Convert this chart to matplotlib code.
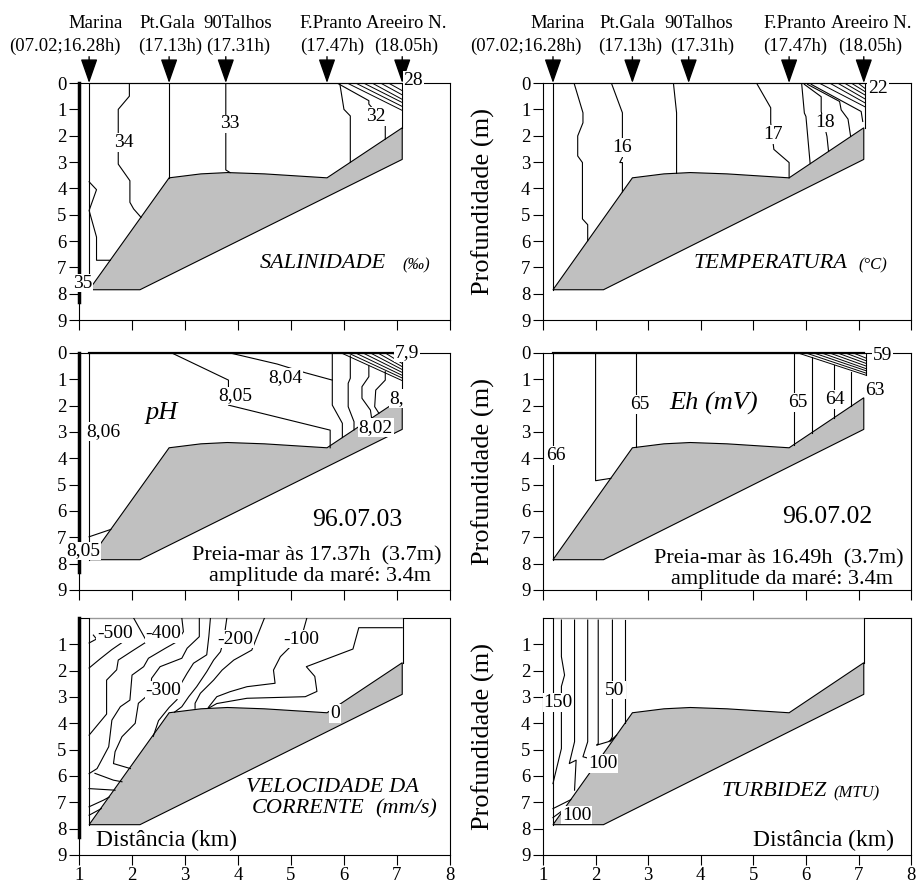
import matplotlib
matplotlib.use('Agg')
import matplotlib.pyplot as plt

plt.rcParams['font.family'] = ['Liberation Serif', 'DejaVu Serif']

# stations along the section
station_names = ['Marina', 'Pt.Gala', '90Talhos', 'F.Pranto', 'Areeiro N.']
station_times = ['(07.02;16.28h)', '(17.13h)', '(17.31h)', '(17.47h)', '(18.05h)']
station_km = [1.19, 2.7, 3.77, 5.68, 7.1]

# bottom profile (km, m)
bottom_km = [1.19, 2.15, 7.1, 7.1, 5.68, 4.5, 3.8, 3.3, 2.7]
bottom_depth = [7.85, 7.85, 2.9, 1.7, 3.6, 3.45, 3.4, 3.45, 3.6]

# --- salinity isolines (km, depth)
sal_lines = [
    [(1.19, 3.75), (1.33, 4.05), (1.19, 4.84), (1.33, 5.85), (1.33, 6.73), (1.59, 6.73)],
    [(1.95, 0), (1.95, 0.5), (1.74, 1.0), (1.74, 3.08), (1.96, 3.71), (1.96, 4.53), (2.03, 4.78), (2.17, 5.1)],
    [(2.7, 0), (2.7, 3.6)],
    [(3.77, 0), (3.77, 3.3), (3.85, 3.4)],
    [(5.92, 0), (6.0, 1.0), (6.12, 1.25), (6.12, 3.01)],
    [(5.87, 0), (6.47, 0.67), (6.47, 0.8), (6.78, 1.5), (6.78, 2.13)],
]
sal_hatch_x0 = [6.06, 6.22, 6.37, 6.53, 6.69, 6.84]
sal_hatch_y1 = [1.04, 0.89, 0.74, 0.62, 0.45, 0.29]
sal_labels = [('35', 1.07, 7.6), ('34', 1.84, 2.26), ('33', 3.84, 1.55), ('32', 6.61, 1.27), ('28', 7.31, -0.1)]

# --- temperature isolines
tem_lines = [
    [(1.59, 0), (1.76, 1.13), (1.76, 1.51), (1.66, 2.01), (1.66, 2.77), (1.75, 3.02), (1.75, 5.16), (1.85, 5.38), (1.85, 5.99)],
    [(2.30, 0), (2.51, 1.13), (2.51, 2.83), (2.46, 3.02), (2.51, 3.02), (2.51, 4.13)],
    [(3.48, 0), (3.54, 1.13), (3.54, 3.43)],
    [(5.06, 0), (5.33, 0.94), (5.33, 1.51), (5.39, 2.52), (5.68, 3.02), (5.68, 3.6)],
    [(5.92, 0.05), (5.97, 1.14), (6.0, 1.27), (6.08, 3.06)],
    [(5.97, 0.05), (6.29, 0.52), (6.29, 1.08), (6.40, 2.03), (6.43, 2.6)],
    [(6.03, 0.05), (6.64, 0.7), (6.67, 1.02), (6.8, 1.37), (6.85, 2.03)],
    [(6.10, 0.05), (7.05, 1.08), (7.08, 1.46)],
]
tem_hatch_x0 = [6.25, 6.45, 6.6, 6.73, 6.86, 6.99]
tem_hatch_y1 = [0.9, 0.75, 0.6, 0.45, 0.32, 0.2]
tem_labels = [('16', 2.5, 2.45), ('17', 5.37, 1.95), ('18', 6.36, 1.51), ('22', 7.37, 0.2)]

# --- pH isolines
ph_lines = [
    [(1.19, 6.98), (1.6, 6.7)],
    [(2.75, 0), (3.82, 1.03), (3.82, 1.98), (5.74, 2.93), (5.74, 3.6)],
    [(3.85, 0), (4.74, 0.42), (5.27, 0.75), (5.78, 1.03)],
    [(5.78, 0), (5.78, 1.98), (5.97, 2.67), (5.97, 3.21)],
    [(6.12, 0.11), (6.12, 0.96), (6.08, 1.15), (6.08, 2.04), (6.19, 2.61), (6.19, 2.92)],
    [(6.47, 0.49), (6.47, 0.9), (6.34, 1.28), (6.34, 1.72), (6.50, 2.17), (6.52, 2.45)],
    [(6.78, 0.71), (6.78, 1.03), (6.6, 1.41), (6.58, 2.04), (6.66, 2.29)],
]
ph_hatch_x0 = [5.95, 6.08, 6.22, 6.36, 6.5, 6.64, 6.78, 6.92]
ph_hatch_y1 = [1.05, 0.95, 0.85, 0.74, 0.63, 0.52, 0.4, 0.28]
ph_labels = [('8,06', 1.46, 2.99), ('8,05', 3.94, 1.63), ('8,04', 4.89, 0.93), ('8,02', 6.6, 2.84),
             ('8,', 7.0, 1.72), ('7,9', 7.19, 0.0), ('8,05', 1.08, 7.52)]

# --- Eh isolines
eh_lines = [
    [(2.0, 0), (2.0, 4.85), (2.29, 4.76)],
    [(2.77, 0), (2.77, 3.58)],
    [(5.77, 0), (5.77, 3.48)],
    [(6.11, 0.14), (6.11, 3.02)],
    [(6.53, 0.46), (6.53, 2.46)],
    [(6.85, 0.71), (6.85, 2.03)],
]
eh_hatch_x0 = [5.85, 6.0, 6.15, 6.3, 6.45, 6.6, 6.75, 6.9]
eh_hatch_y1 = [0.85, 0.77, 0.68, 0.6, 0.5, 0.4, 0.3, 0.2]
eh_labels = [('66', 1.25, 3.9), ('65', 2.84, 1.95), ('65', 5.85, 1.89), ('64', 6.55, 1.76),
             ('63', 7.32, 1.44), ('59', 7.46, 0.08)]

# --- current velocity isolines (mm/s)
vel_lines = [
    [(1.19, 1.9), (1.4, 1.55), (1.62, 1.2), (1.8, 0.95)],
    [(1.19, 0.95), (1.33, 0.8), (1.27, 0.65)],
    [(2.03, 0), (2.28, 0.9), (2.03, 1.22), (1.74, 1.6), (1.71, 1.97), (1.52, 2.36), (1.52, 3.65), (1.19, 4.45)],
    [(2.94, 0), (2.97, 0.52), (2.85, 0.9), (2.63, 1.15), (2.31, 1.53), (2.22, 1.85), (2.0, 2.17), (1.96, 3.12),
     (1.78, 3.37), (1.62, 3.88), (1.56, 4.89), (1.34, 5.72), (1.19, 5.91)],
    [(3.27, 0), (3.27, 0.71), (3.04, 1.15), (2.94, 1.53), (2.53, 1.85), (2.37, 2.29), (2.34, 2.86), (2.12, 3.24),
     (2.06, 4.0), (1.81, 4.51), (1.68, 5.08), (1.65, 5.53), (1.97, 5.72)],
    [(3.48, 0), (3.45, 0.7), (3.41, 1.4), (3.16, 1.72), (3.04, 2.1), (2.91, 2.55), (2.85, 3.1), (2.7, 3.4),
     (2.5, 3.9), (2.4, 4.5)],
    [(3.79, 0), (3.73, 0.84), (3.67, 1.28), (3.54, 1.6), (3.41, 2.04), (3.22, 2.61), (3.07, 2.99), (2.94, 3.37), (2.8, 3.58)],
    [(4.5, 0), (4.36, 0.71), (4.26, 1.22), (3.92, 1.6), (3.7, 1.98), (3.54, 2.36), (3.29, 2.86), (3.19, 3.24), (3.19, 3.43)],
    [(5.3, 0), (5.21, 0.65), (4.99, 1.09), (4.8, 1.47), (4.67, 1.98), (4.7, 2.48), (4.17, 2.61), (3.85, 2.8),
     (3.6, 2.99), (3.44, 3.4)],
    [(7.1, 0.37), (6.28, 0.37), (6.17, 1.18), (5.29, 1.85), (5.45, 2.22), (5.49, 2.79), (5.27, 2.99), (4.17, 3.05),
     (3.6, 3.25), (3.45, 3.42)],
    [(1.3, 5.9), (1.65, 6.16), (1.81, 6.22)],
    [(1.19, 6.48), (1.68, 6.54)],
    [(1.19, 7.17), (1.46, 6.92), (1.57, 6.8)],
    [(1.19, 7.49), (1.42, 7.24)],
]
vel_labels = [('-500', 1.68, 0.58), ('-400', 2.59, 0.58), ('-300', 2.59, 2.74), ('-200', 3.95, 0.8),
              ('-100', 5.2, 0.8), ('0', 5.83, 3.62)]

# --- turbidity isolines (MTU)
tur_lines = [
    [(1.35, 0.08), (1.35, 1.47), (1.41, 2.17), (1.35, 2.6), (1.35, 4.96), (1.22, 6.03), (1.19, 6.29)],
    [(1.6, 0.08), (1.6, 4.7), (1.5, 5.53), (1.63, 5.4), (1.6, 6.54)],
    [(1.85, 0.08), (1.85, 4.7), (1.76, 5.27), (1.9, 5.35), (1.98, 5.6)],
    [(2.05, 0.08), (2.05, 4.77), (2.02, 4.83), (2.24, 4.7), (2.36, 4.55)],
    [(2.32, 0.08), (2.32, 4.51), (2.27, 4.7), (2.4, 4.45)],
    [(2.56, 0.08), (2.56, 3.99)],
    [(1.19, 7.24), (1.53, 6.9)],
    [(1.19, 7.58), (1.38, 7.3)],
]
tur_labels = [('150', 1.29, 3.22), ('50', 2.37, 2.74), ('100', 2.13, 5.53), ('100', 1.64, 7.49)]


def setup_axes(ax, row, col):
    ax.set_xlim(1, 8)
    ax.set_ylim(9, 0)
    ax.set_xticks(range(1, 9))
    if row < 2:
        ax.set_xticklabels([])
        ax.set_yticks(range(0, 10))
    else:
        ax.set_yticks(range(1, 10))
    ax.tick_params(direction='out', length=7, width=0.8, labelsize=13.5, pad=2)
    for sp in ax.spines.values():
        sp.set_linewidth(0.8)
    if col == 1:
        ax.set_ylabel('Profundidade (m)', fontsize=19)
        ax.yaxis.set_label_coords(-0.13, 0.5)
    else:
        ax.plot([1, 1], [0, 8.3], color='k', lw=2.5, clip_on=False, zorder=5)


def draw_section(ax, lines, labels, hatch_x0=None, hatch_y1=None, hatch_xend=7.1,
                 right_bottom=1.7, surface_color='k', surface_lw=0.8):
    ax.fill(bottom_km, bottom_depth, facecolor='#c0c0c0', edgecolor='k', lw=0.8, zorder=2)
    # water domain outline
    ax.plot([station_km[0], station_km[-1]], [0, 0], color=surface_color, lw=surface_lw, zorder=3, clip_on=False)
    ax.plot([station_km[0], station_km[0]], [0, bottom_depth[0]], color='k', lw=0.8, zorder=3)
    ax.plot([hatch_xend, hatch_xend], [0, right_bottom], color='k', lw=0.8, zorder=3)
    for ln in lines:
        xs = [p[0] for p in ln]
        ys = [p[1] for p in ln]
        ax.plot(xs, ys, color='k', lw=0.8, zorder=3)
    if hatch_x0 is not None:
        for x0, y1 in zip(hatch_x0, hatch_y1):
            ax.plot([x0, hatch_xend], [0, y1], color='k', lw=0.7, zorder=3)
    for txt, x, y in labels:
        ax.text(x, y, txt, fontsize=14, ha='center', va='center', zorder=6, clip_on=False,
                bbox=dict(facecolor='white', edgecolor='none', pad=0.5))


def draw_stations(ax, name_dx, time_dx):
    for i, x in enumerate(station_km):
        ax.annotate('', xy=(x, 0), xytext=(x, -1.0), annotation_clip=False,
                    arrowprops=dict(arrowstyle='-|>,head_length=1.0,head_width=0.35', color='k',
                                    lw=1.0, mutation_scale=15, shrinkA=0, shrinkB=0))
        ax.text(x + name_dx[i], -2.25, station_names[i], fontsize=13.5, ha='center', va='center', clip_on=False)
        ax.text(x + time_dx[i], -1.4, station_times[i], fontsize=13.5, ha='center', va='center', clip_on=False)


fig = plt.figure(figsize=(9.18, 8.88), dpi=100)
col_left = [0.0861, 0.5915]
col_width = [0.404, 0.401]
row_bottom = [0.6396, 0.3356, 0.0372]
row_h = 0.2669

axes = {}
for r in range(3):
    for c in range(2):
        ax = fig.add_axes([col_left[c], row_bottom[r], col_width[c], row_h])
        setup_axes(ax, r, c)
        axes[(r, c)] = ax

# salinity
ax = axes[(0, 0)]
draw_section(ax, sal_lines, sal_labels, sal_hatch_x0, sal_hatch_y1, 7.1)
draw_stations(ax, [0.13, -0.04, 0.23, 0.08, 0.08], [-0.45, 0.02, 0.23, 0.1, 0.08])
ax.text(5.6, 6.86, 'SALINIDADE', fontsize=16, style='italic', ha='center', va='center')
ax.text(7.37, 6.92, '(‰)', fontsize=12, style='italic', ha='center', va='center')

# temperature
ax = axes[(0, 1)]
draw_section(ax, tem_lines, tem_labels, tem_hatch_x0, tem_hatch_y1, 7.12)
draw_stations(ax, [0.08, -0.1, 0.19, 0.1, 0.14], [-0.51, -0.04, 0.25, 0.12, 0.13])
ax.text(5.32, 6.86, 'TEMPERATURA', fontsize=16, style='italic', ha='center', va='center')
ax.text(7.28, 6.92, '(°C)', fontsize=12, style='italic', ha='center', va='center')

# pH
ax = axes[(1, 0)]
draw_section(ax, ph_lines, ph_labels, ph_hatch_x0, ph_hatch_y1, 7.1, surface_color='k', surface_lw=1.6)
ax.text(2.56, 2.29, 'pH', fontsize=19, style='italic', ha='center', va='center')
ax.text(6.25, 6.35, '96.07.03', fontsize=18.5, ha='center', va='center')
ax.text(5.49, 7.7, 'Preia-mar às 17.37h  (3.7m)', fontsize=16, ha='center', va='center')
ax.text(5.55, 8.5, 'amplitude da maré: 3.4m', fontsize=16, ha='center', va='center')

# Eh
ax = axes[(1, 1)]
draw_section(ax, eh_lines, eh_labels, eh_hatch_x0, eh_hatch_y1, 7.15, right_bottom=0.85,
             surface_color='k', surface_lw=1.6)
ax.text(4.24, 1.91, 'Eh (mV)', fontsize=19, style='italic', ha='center', va='center')
ax.text(6.41, 6.22, '96.07.02', fontsize=18.5, ha='center', va='center')
ax.text(5.48, 7.8, 'Preia-mar às 16.49h  (3.7m)', fontsize=16, ha='center', va='center')
ax.text(5.55, 8.6, 'amplitude da maré: 3.4m', fontsize=16, ha='center', va='center')

# current velocity
ax = axes[(2, 0)]
draw_section(ax, vel_lines, vel_labels, None, None, 7.12, surface_color='0.6')
ax.text(5.78, 6.45, 'VELOCIDADE DA', fontsize=16, style='italic', ha='center', va='center')
ax.text(5.32, 7.24, 'CORRENTE', fontsize=16, style='italic', ha='center', va='center')
ax.text(7.18, 7.24, '(mm/s)', fontsize=16, style='italic', ha='center', va='center')
ax.text(2.66, 8.44, 'Distância (km)', fontsize=17, ha='center', va='center')

# turbidity
ax = axes[(2, 1)]
draw_section(ax, tur_lines, tur_labels, None, None, 7.1, surface_color='0.6')
ax.text(5.39, 6.6, 'TURBIDEZ', fontsize=16, style='italic', ha='center', va='center')
ax.text(6.97, 6.65, '(MTU)', fontsize=12, style='italic', ha='center', va='center')
ax.text(6.34, 8.44, 'Distância (km)', fontsize=17, ha='center', va='center')

fig.savefig('out.png', dpi=100)
